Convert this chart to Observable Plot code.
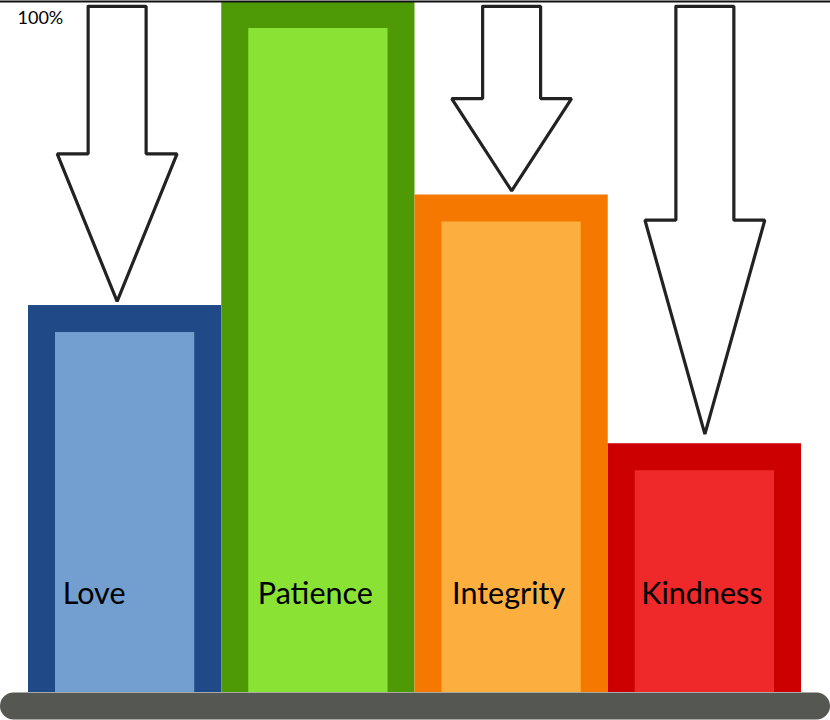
<!DOCTYPE html>
<html>
<head>
<meta charset="utf-8">
<script src="https://cdn.jsdelivr.net/npm/d3@7"></script>
<script src="https://cdn.jsdelivr.net/npm/@observablehq/plot@0.6"></script>
<style>
  html, body { margin: 0; padding: 0; background: #ffffff; }
  #chart svg { display: block; }
</style>
</head>
<body>
<div id="chart"></div>
<script>
const categories = ["Love", "Patience", "Integrity", "Kindness"];
const values = [56, 100, 72, 36];
const outerColors = ["#204a87", "#4e9a06", "#f57900", "#cc0000"];
const innerColors = ["#729fcf", "#8ae234", "#fcaf3e", "#ef2929"];
const arrowCategories = ["Love", "Integrity", "Kindness"];
const arrowTips = [56.6, 72.6, 37.4];
const topValue = 100;

const bars = categories.map((c, i) => ({c, i, v: values[i], outer: outerColors[i], inner: innerColors[i]}));

// arrow outlines built from each bar's index and value
const shaftHalf = 0.15, headHalf = 0.31, arrowTop = 99.3;
const arrowPts = [];
arrowCategories.forEach((c, k) => {
  const i = categories.indexOf(c);
  const tip = arrowTips[k];
  const hb = (arrowTop + tip) / 2;
  const pts = [
    [i - shaftHalf, arrowTop], [i + shaftHalf, arrowTop], [i + shaftHalf, hb],
    [i + headHalf, hb], [i, tip], [i - headHalf, hb], [i - shaftHalf, hb], [i - shaftHalf, arrowTop]
  ];
  pts.forEach(([x, y]) => arrowPts.push({c, x, y}));
});

const font = "Lato, 'Open Sans', sans-serif";
const arrowStyle = {x: "x", y: "y", z: "c", fill: "white", stroke: "#222", strokeWidth: 3.2, strokeLinejoin: "miter", curve: "linear"};
const labelStyle = {x: "i", y: 0, text: "c", dy: -98, fontSize: 30.5, fontFamily: font, fill: "#000"};

const chart = Plot.plot({
  width: 830,
  height: 720,
  marginTop: 1,
  marginBottom: 28,
  marginLeft: 0,
  marginRight: 0,
  x: {type: "linear", domain: [-0.5 - 28 / 193.25, 3.5 + 29 / 193.25], axis: null},
  y: {domain: [0, 100], axis: null},
  color: {type: "identity"},
  marks: [
    Plot.rect(bars, {x1: d => d.i - 0.5, x2: d => d.i + 0.5, y1: 0, y2: "v", fill: "outer"}),
    Plot.rect(bars, {x1: d => d.i - 0.5, x2: d => d.i + 0.5, y1: 0, y2: "v", fill: "inner", insetLeft: 27, insetRight: 27, insetTop: 27}),
    Plot.ruleY([topValue], {stroke: "#111", strokeWidth: 2}),
    Plot.text([topValue], {x: () => -0.5 - 28 / 193.25, y: d => d, text: d => d + "%", textAnchor: "start", dx: 17, dy: 16.5, fontSize: 18, fontFamily: font, fill: "#000"}),
    Plot.line(arrowPts.filter(p => p.c === "Love"), {...arrowStyle, dx: -8}),
    Plot.line(arrowPts.filter(p => p.c !== "Love"), arrowStyle),
    Plot.text(bars.filter(d => d.c === "Love"), {...labelStyle, dx: -31}),
    Plot.text(bars.filter(d => d.c !== "Love"), {...labelStyle, dx: -3}),
    Plot.ruleY([0], {stroke: "#555753", strokeWidth: 27, dy: 13.5, strokeLinecap: "round", insetLeft: 13.5, insetRight: 13.5})
  ]
});
document.getElementById("chart").appendChild(chart);
</script>
</body>
</html>
